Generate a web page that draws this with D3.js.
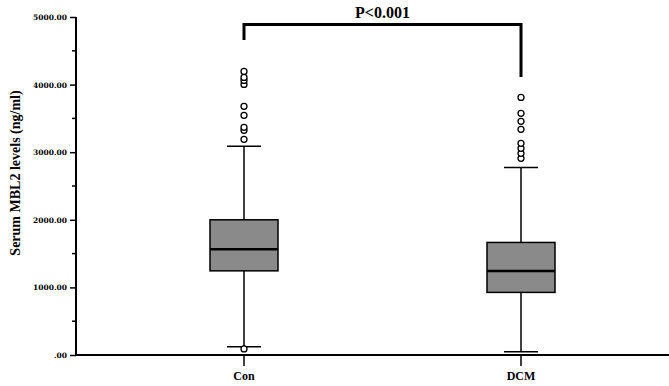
<!DOCTYPE html>
<html>
<head>
<meta charset="utf-8">
<script src="https://cdn.jsdelivr.net/npm/d3@7"></script>
<style>
  body { margin: 0; background: #fff; }
  text { font-family: "Liberation Serif", "DejaVu Serif", serif; font-weight: bold; fill: #000; }
</style>
</head>
<body>
<svg width="669" height="386"></svg>
<script>
// categories and box stats
var groups = ["Con", "DCM"];
var lowWhisker = [123, 49];
var q1 = [1245, 926];
var median = [1566, 1241];
var q3 = [2000, 1665];
var highWhisker = [3087, 2772];
var outliers = [
    [90, 3191, 3323, 3368, 3545, 3678, 4003, 4062, 4106, 4195],
    [2910, 2984, 3057, 3131, 3338, 3456, 3575, 3811]
];
var yTicks = [0, 1000, 2000, 3000, 4000, 5000];
var yMinor = [500, 1500, 2500, 3500, 4500];
var pLabel = "P<0.001";

var svg = d3.select("svg");

var y = d3.scaleLinear().domain([0, 5000]).range([355, 17]);
var x = d3.scaleBand().domain(groups).range([105.5, 659.5]);

var fmt = function(v) { return v === 0 ? ".00" : d3.format(".2f")(v); };

// y axis
var yAxis = svg.append("g")
    .attr("transform", "translate(76,0)")
    .attr("color", "#000")
    .call(d3.axisLeft(y).tickValues(yTicks).tickFormat(fmt).tickSize(6).tickPadding(3));
yAxis.select(".domain").attr("stroke-width", 2).attr("d", "M0," + y(5000) + "V" + y(0));
yAxis.selectAll(".tick line").attr("stroke-width", 1.5);
yAxis.selectAll(".tick text")
    .style("font-size", "7.5px")
    .style("font-family", "'DejaVu Serif', serif");

svg.append("g")
    .selectAll("line")
    .data(yMinor)
    .enter().append("line")
    .attr("x1", 72).attr("x2", 76)
    .attr("y1", function(d) { return y(d); })
    .attr("y2", function(d) { return y(d); })
    .attr("stroke", "#000").attr("stroke-width", 1.5);

// x axis
svg.append("line")
    .attr("x1", 75).attr("x2", 669)
    .attr("y1", 355).attr("y2", 355)
    .attr("stroke", "#000").attr("stroke-width", 2);

var xg = svg.append("g")
    .attr("transform", "translate(0,355)")
    .attr("color", "#000")
    .call(d3.axisBottom(x).tickSize(11).tickPadding(5));
xg.select(".domain").remove();
xg.selectAll(".tick line").attr("stroke-width", 1.5);
xg.selectAll(".tick text")
    .style("font-size", "12px")
    .style("font-family", "'Liberation Serif', serif");

// y title
svg.append("text")
    .attr("transform", "translate(20,173) rotate(-90)")
    .attr("text-anchor", "middle")
    .style("font-size", "14px")
    .text("Serum MBL2 levels (ng/ml)");

// boxes
var boxW = 68, capW = 34;
var box = svg.selectAll(".box")
    .data(groups)
    .enter().append("g")
    .attr("class", "box");

box.append("line")
    .attr("x1", function(d) { return x(d) + x.bandwidth() / 2; })
    .attr("x2", function(d) { return x(d) + x.bandwidth() / 2; })
    .attr("y1", function(d, i) { return y(lowWhisker[i]); })
    .attr("y2", function(d, i) { return y(highWhisker[i]); })
    .attr("stroke", "#000").attr("stroke-width", 1.5);

[lowWhisker, highWhisker].forEach(function(arr) {
    box.append("line")
        .attr("x1", function(d) { return x(d) + x.bandwidth() / 2 - capW / 2; })
        .attr("x2", function(d) { return x(d) + x.bandwidth() / 2 + capW / 2; })
        .attr("y1", function(d, i) { return y(arr[i]); })
        .attr("y2", function(d, i) { return y(arr[i]); })
        .attr("stroke", "#000").attr("stroke-width", 1.5);
});

box.append("rect")
    .attr("x", function(d) { return x(d) + x.bandwidth() / 2 - boxW / 2; })
    .attr("width", boxW)
    .attr("y", function(d, i) { return y(q3[i]); })
    .attr("height", function(d, i) { return y(q1[i]) - y(q3[i]); })
    .attr("fill", "#8a8a8a")
    .attr("stroke", "#000").attr("stroke-width", 1.5);

box.append("line")
    .attr("x1", function(d) { return x(d) + x.bandwidth() / 2 - boxW / 2; })
    .attr("x2", function(d) { return x(d) + x.bandwidth() / 2 + boxW / 2; })
    .attr("y1", function(d, i) { return y(median[i]); })
    .attr("y2", function(d, i) { return y(median[i]); })
    .attr("stroke", "#000").attr("stroke-width", 2.5);

box.each(function(d, i) {
    d3.select(this).selectAll("circle")
        .data(outliers[i])
        .enter().append("circle")
        .attr("cx", x(d) + x.bandwidth() / 2)
        .attr("cy", function(v) { return y(v); })
        .attr("r", 3)
        .attr("fill", "#fff")
        .attr("stroke", "#000").attr("stroke-width", 1.3);
});

// significance bracket
var cx0 = x(groups[0]) + x.bandwidth() / 2, cx1 = x(groups[1]) + x.bandwidth() / 2;
var topY = 24.5;
svg.append("path")
    .attr("d", "M" + cx0 + ",40V" + topY + "H" + cx1 + "V77")
    .attr("fill", "none")
    .attr("stroke", "#000").attr("stroke-width", 3);

svg.append("text")
    .attr("x", (cx0 + cx1) / 2)
    .attr("y", 18)
    .attr("text-anchor", "middle")
    .style("font-size", "16px")
    .text(pLabel);
</script>
</body>
</html>
